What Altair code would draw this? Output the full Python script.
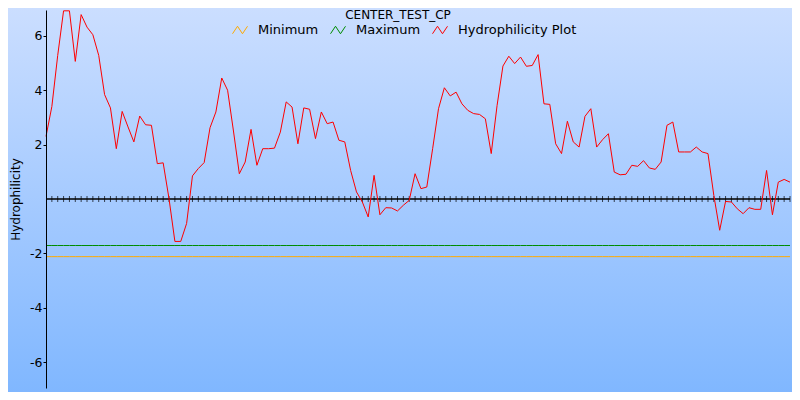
import altair as alt
import pandas as pd

# ---------------- data ----------------
chart_title = "CENTER_TEST_CP"
y_title = "Hydrophilicity"
series_names = ["Minimum", "Maximum", "Hydrophilicity Plot"]
series_colors = ["#ffaa00", "#008c00", "#ff0000"]
y_tick_values = [-6, -4, -2, 2, 4, 6]

hydro = [
    2.30, 3.40, 5.28, 6.92, 6.92, 5.06, 6.78, 6.32, 6.04, 5.28,
    3.84, 3.35, 1.85, 3.22, 2.65, 2.10, 3.05, 2.73, 2.71, 1.30,
    1.33, 0.01, -1.56, -1.56, -0.90, 0.85, 1.12, 1.34, 2.62, 3.20,
    4.45, 4.00, 2.50, 0.93, 1.36, 2.56, 1.24, 1.85, 1.85, 1.87,
    2.46, 3.57, 3.38, 2.03, 3.35, 3.30, 2.22, 3.20, 2.77, 2.83,
    2.16, 2.10, 1.05, 0.26, -0.11, -0.66, 0.87, -0.58, -0.32, -0.33,
    -0.44, -0.23, -0.05, 0.93, 0.38, 0.44, 1.85, 3.32, 4.09, 3.79,
    3.93, 3.50, 3.26, 3.14, 3.11, 2.95, 1.67, 3.44, 4.89, 5.25,
    4.98, 5.22, 4.88, 4.91, 5.31, 3.50, 3.48, 2.03, 1.67, 2.86,
    2.10, 1.91, 3.04, 3.32, 1.91, 2.18, 2.40, 0.99, 0.89, 0.91,
    1.24, 1.20, 1.41, 1.14, 1.09, 1.36, 2.71, 2.83, 1.73, 1.73,
    1.73, 1.91, 1.73, 1.67, 0.13, -1.15, -0.09, -0.11, -0.36, -0.54,
    -0.32, -0.38, -0.38, 1.05, -0.58, 0.62, 0.72, 0.62,
]
minimum_value = -2.12
maximum_value = -1.71
y_limit = 6.95

positions = list(range(len(hydro)))
x_max = positions[-1]

rows = []
for p in positions:
    rows.append({"pos": p, "value": minimum_value, "series": series_names[0]})
for p in positions:
    rows.append({"pos": p, "value": maximum_value, "series": series_names[1]})
for p, v in zip(positions, hydro):
    rows.append({"pos": p, "value": v, "series": series_names[2]})
df = pd.DataFrame(rows)

ticks_df = pd.DataFrame({"pos": positions[1:], "value": [0] * (len(positions) - 1)})

# ---------------- layout (canvas 784 x 384 inside the 8px page margin) ----------------
W, H = 744, 378
PAD = {"left": 38, "top": 2, "right": 2, "bottom": 4}
FONT = "DejaVu Sans"

xs = alt.Scale(domain=[0, x_max], nice=False, zero=False, padding=0)
ys = alt.Scale(domain=[-y_limit, y_limit], nice=False, zero=False, padding=0)
y_axis = alt.Axis(
    values=y_tick_values, grid=False, title=y_title, zindex=2,
    labelExpr="'' + datum.value",
    domainColor="black", tickColor="black", labelColor="black",
    tickSize=3, labelPadding=1, labelFont=FONT, labelFontSize=12.5,
    titleFont=FONT, titleFontSize=12, titleFontWeight="normal",
    titleColor="black", titleX=-27, titleY=H / 2, titleAngle=270,
    titleBaseline="alphabetic", titleAlign="center",
)

bg = alt.Chart(alt.Data(values=[{"k": 1}])).mark_rect(
    color=alt.LinearGradient(
        gradient="linear",
        stops=[alt.GradientStop(color="#cbdeff", offset=0),
               alt.GradientStop(color="#80b7ff", offset=1)],
        x1=0, x2=0, y1=0, y2=1,
    )
).encode(
    x=alt.value(-PAD["left"]), x2=alt.value(W + PAD["right"]),
    y=alt.value(-PAD["top"]), y2=alt.value(H + PAD["bottom"]),
)

zero_rule = alt.Chart(alt.Data(values=[{"value": 0}])).mark_rule(
    color="black", strokeWidth=1.5
).encode(y=alt.Y("value:Q", scale=ys, axis=y_axis, title=y_title))

zero_ticks = alt.Chart(ticks_df).mark_tick(
    orient="vertical", size=6, thickness=1, color="black"
).encode(
    x=alt.X("pos:Q", scale=xs, axis=None),
    y=alt.Y("value:Q", scale=ys, axis=y_axis, title=y_title),
)

lines = alt.Chart(df).mark_line(strokeWidth=1).encode(
    x=alt.X("pos:Q", scale=xs, axis=None),
    y=alt.Y("value:Q", scale=ys, axis=y_axis, title=y_title),
    color=alt.Color(
        "series:N",
        scale=alt.Scale(domain=series_names, range=series_colors),
        legend=alt.Legend(
            orient="none", legendX=186, legendY=12, direction="horizontal",
            title=None, padding=0,
            symbolType="M-1,0.5L-0.333,-0.5L0.333,0.5L1,-0.5",
            symbolSize=225, symbolStrokeWidth=1,
            labelFont=FONT, labelFontSize=13, labelColor="black",
            labelOffset=10, columnPadding=9,
        ),
    ),
    detail="series:N",
)

title_mark = alt.Chart(alt.Data(values=[{"t": chart_title}])).mark_text(
    font=FONT, fontSize=12, color="black", align="center", baseline="top"
).encode(text="t:N", x=alt.value(352), y=alt.value(-0.5))

chart = alt.layer(bg, zero_rule, zero_ticks, lines, title_mark).properties(
    width=W, height=H, padding=PAD, autosize="none", background="#a8caff"
).configure_view(strokeWidth=0)

chart.save("out.html", embed_options={"renderer": "svg", "actions": False})
